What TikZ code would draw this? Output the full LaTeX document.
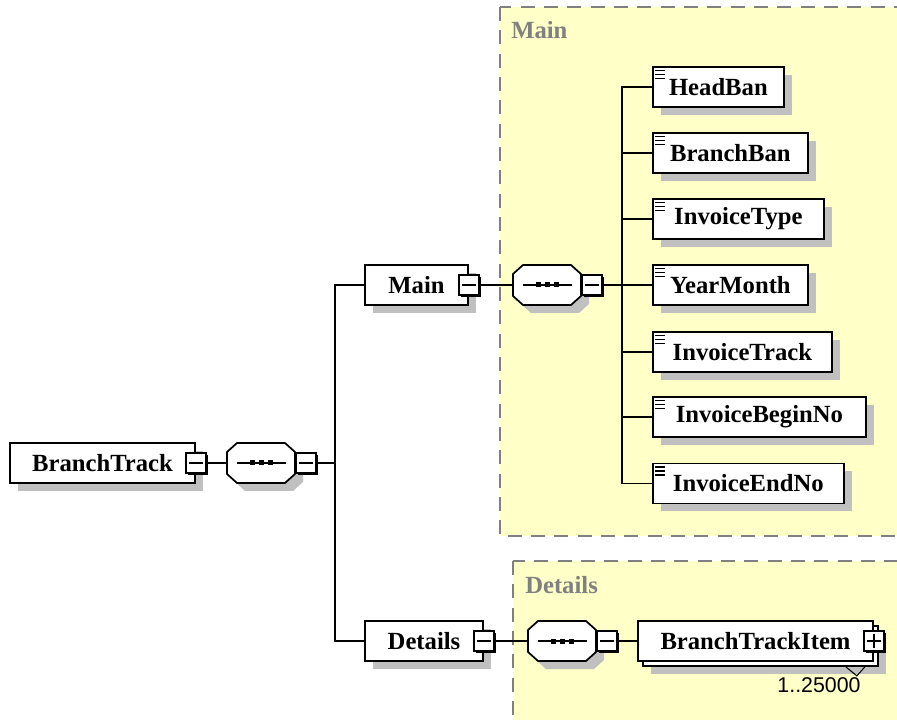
\documentclass[tikz,border=0pt]{standalone}
\usepackage{fontspec}
\setmainfont{Liberation Serif}
\newfontfamily\cardfont{Liberation Sans}
\usetikzlibrary{calc,shadows}
\definecolor{groupfill}{HTML}{FFFFC8}
\definecolor{groupline}{HTML}{808080}
\definecolor{shadowgray}{HTML}{C0C0C0}

\begin{document}
\begin{tikzpicture}[
    x=0.75pt, y=-0.75pt,
    every node/.style={font=\fontsize{18.5}{20}\selectfont\bfseries},
    group/.style={fill=groupfill, draw=groupline, line width=1.5pt, dash pattern=on 10.5pt off 7pt},
    grouplabel/.style={text=groupline, anchor=west, inner sep=0pt},
    boxshadow/.style={drop shadow={shadow xshift=6pt, shadow yshift=-6pt, fill=shadowgray, opacity=1}},
    plainbox/.style={draw, fill=white, line width=1.3pt, minimum height=30pt, inner sep=0pt},
    box/.style={plainbox, boxshadow},
    elem/.style={box, path picture={
        \foreach \k in {3.5,7.5,11.5}
            \draw[line width=0.8pt] ($(path picture bounding box.north west)+(2.5,\k)$) -- ++(10,0);
    }},
    seq/.style={minimum width=51pt, minimum height=30pt, inner sep=0pt},
    octagon/.style={fill=white, draw, line width=1.3pt},
    toggle/.style={draw, fill=white, line width=1.1pt, minimum size=15pt, inner sep=0pt,
        general shadow={shadow xshift=1.6pt, shadow yshift=-1.6pt, fill=black}},
    collapse/.style={toggle, path picture={
        \draw[line width=1pt] ($(path picture bounding box.west)+(3,0)$) -- ($(path picture bounding box.east)+(-3,0)$);
    }},
    expand/.style={toggle, path picture={
        \draw[line width=1pt] ($(path picture bounding box.west)+(3,0)$) -- ($(path picture bounding box.east)+(-3,0)$);
        \draw[line width=1pt] ($(path picture bounding box.north)+(0,3)$) -- ($(path picture bounding box.south)+(0,-3)$);
    }},
    link/.style={line width=1pt}
]

    % Frame of the picture
    \useasboundingbox (0,0) rectangle (897,720);

    % Group backgrounds (dashed yellow panels)
    \draw[group] (500,7) rectangle (910,536);
    \node[grouplabel] (mainGroupLabel) at (511,30) {Main};
    \draw[group] (513,561) rectangle (910,730);
    \node[grouplabel] (detailsGroupLabel) at (525,585) {Details};

    % Elements with children
    \node[box, minimum width=138.75pt] (BranchTrack) at (102.5,463) {BranchTrack};
    \node[box, minimum width=77.25pt] (Main) at (416.5,285) {Main};
    \node[box, minimum width=88.5pt] (Details) at (424,641) {Details};

    % Sequence compositors (octagons)
    \node[seq] (rootSeq) at (261,463) {};
    \node[seq] (mainSeq) at (547,285) {};
    \node[seq] (detailsSeq) at (562,641) {};
    \foreach \s in {rootSeq, mainSeq, detailsSeq} {
        \begin{scope}[shift={(\s.center)}]
            \fill[shadowgray] (-26,-3) -- (-16,-12) -- (32,-12) -- (42,-3) -- (42,19) -- (32,28) -- (-16,28) -- (-26,19) -- cycle;
            \draw[octagon] (-34,-11) -- (-24,-20) -- (24,-20) -- (34,-11) -- (34,11) -- (24,20) -- (-24,20) -- (-34,11) -- cycle;
            \draw[link] (-24,0) -- (25,0);
            \foreach \d in {-9,0,9}
                \fill (\d-2.5,-2.5) rectangle ++(5,5);
        \end{scope}
    }

    % Expand / collapse toggles
    \node[collapse] (BranchTrackToggle) at (BranchTrack.east) {};
    \node[collapse, anchor=west] (rootSeqToggle) at (rootSeq.east) {};
    \node[collapse] (MainToggle) at (Main.east) {};
    \node[collapse, anchor=west] (mainSeqToggle) at (mainSeq.east) {};
    \node[collapse] (DetailsToggle) at (Details.east) {};
    \node[collapse, anchor=west] (detailsSeqToggle) at (detailsSeq.east) {};

    % Repeated BranchTrackItem (stacked boxes)
    \node[box, minimum width=176.25pt] (itemBack) at (760.5,646) {};
    \node[plainbox, minimum width=176.25pt] (BranchTrackItem) at (755.5,641) {BranchTrackItem};
    \node[expand] (BranchTrackItemToggle) at (BranchTrackItem.east) {};
    \draw[line width=0.8pt] ($(itemBack.south east)+(-33,0)$) -- ++(11,9) -- ++(8,-9);
    \node[font=\cardfont\fontsize{16}{18}\selectfont] (itemCard) at (819,685) {1..25000};

    % Leaf elements of Main
    \foreach \name/\cy/\w in {HeadBan/87/131, BranchBan/153/155, InvoiceType/219/171, YearMonth/285/155,
        InvoiceTrack/352/179, InvoiceBeginNo/417/213, InvoiceEndNo/483.5/191} {
        \node[elem, anchor=west, minimum width=\w*0.75pt] (\name) at (652,\cy) {\name};
    }

    % Connectors
    \coordinate (rootBus) at (335,463);
    \coordinate (mainBus) at (622,285);
    \draw[link] (BranchTrackToggle) -- (rootSeq);
    \draw[link] (rootSeqToggle) -- (rootBus);
    \draw[link] (Main.west) -| (rootBus) |- (Details.west);
    \draw[link] (MainToggle) -- (mainSeq);
    \draw[link] (mainSeqToggle) -- (mainBus);
    \foreach \name in {HeadBan, BranchBan, InvoiceType, YearMonth, InvoiceTrack, InvoiceBeginNo, InvoiceEndNo}
        \draw[link] (mainBus) |- (\name.west);
    \draw[link] (DetailsToggle) -- (detailsSeq);
    \draw[link] (detailsSeqToggle) -- (BranchTrackItem);

\end{tikzpicture}
\end{document}
